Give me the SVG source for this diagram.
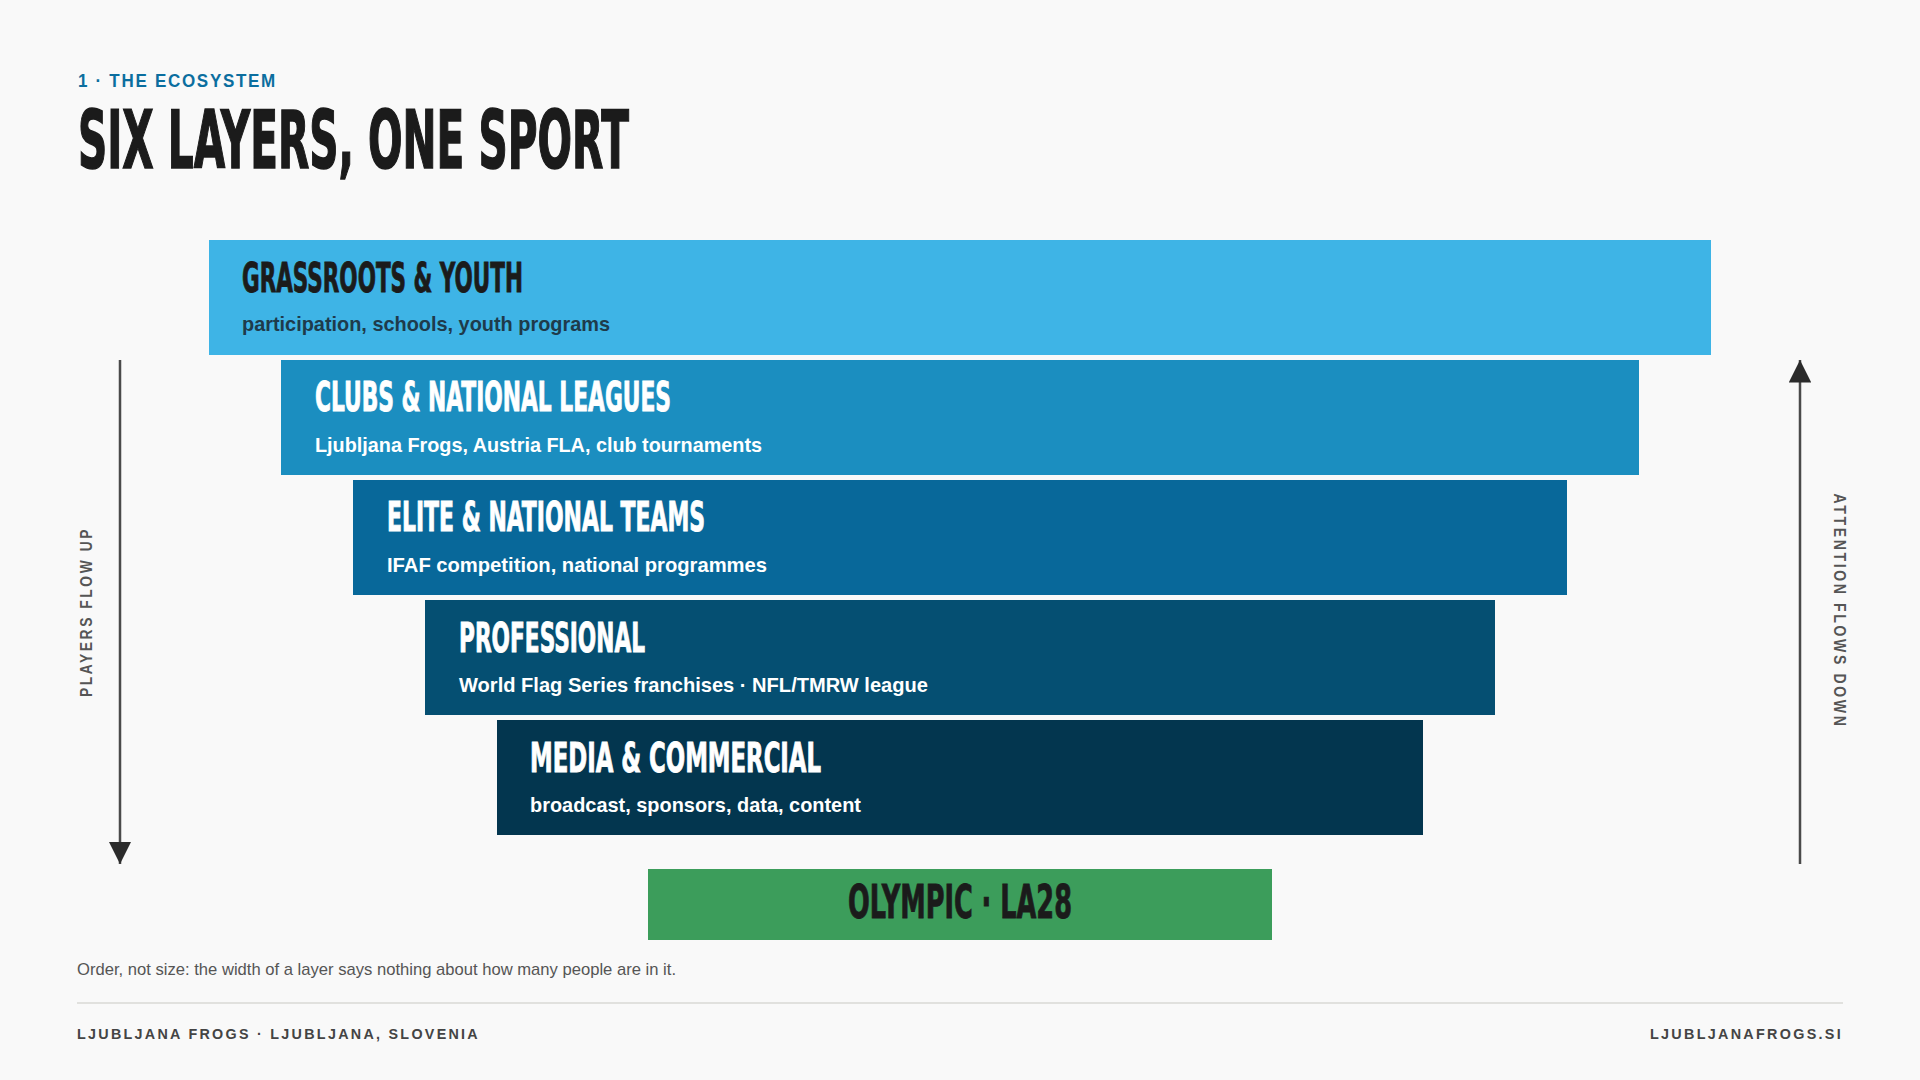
<svg xmlns="http://www.w3.org/2000/svg" width="1920" height="1080" viewBox="0 0 1920 1080">
  <style>
    .bg { fill: #f9f9f9; }
    .eyebrow { font-family: "Liberation Sans", Arial, sans-serif; font-weight: 700; font-size: 18px; letter-spacing: 1.8px; fill: #0b6e9f; }
    .h1 { font-family: "Liberation Sans Narrow", "DejaVu Sans Condensed", "Liberation Sans", sans-serif; font-weight: 700; font-size: 81px; fill: #1b1b1b; stroke: #1b1b1b; stroke-width: 1.6px; }
    .lt { font-family: "Liberation Sans Narrow", "DejaVu Sans Condensed", "Liberation Sans", sans-serif; font-weight: 700; font-size: 40px; fill: #ffffff; stroke: #ffffff; stroke-width: 0.9px; }
    .ls { font-family: "Liberation Sans", Arial, sans-serif; font-weight: 700; font-size: 21px; fill: #ffffff; }
    .dark { fill: #1b1b1b; stroke: #1b1b1b; }
    .darksub { fill: #1e3b4b; }
    .side { font-family: "Liberation Sans", Arial, sans-serif; font-weight: 700; font-size: 16px; letter-spacing: 3px; fill: #555555; }
    .caption { font-family: "Liberation Sans", Arial, sans-serif; font-size: 17px; fill: #555555; }
    .foot { font-family: "Liberation Sans", Arial, sans-serif; font-weight: 700; font-size: 15px; letter-spacing: 2.4px; fill: #444444; }
    .arrow { stroke: #4a4a4a; stroke-width: 2.5px; fill: none; }
  </style>
  <defs>
    <marker id="head" viewBox="0 0 10 10" refX="10" refY="5" markerWidth="9" markerHeight="9" markerUnits="strokeWidth" orient="auto">
      <path d="M0,0 L10,5 L0,10 Z" fill="#2b2b2b"/>
    </marker>
  </defs>

  <rect class="bg" x="0" y="0" width="1920" height="1080"/>

  <g id="header">
    <text class="eyebrow" x="78" y="87" textLength="199" lengthAdjust="spacingAndGlyphs">1 · THE ECOSYSTEM</text>
    <text class="h1" x="78" y="168" textLength="551" lengthAdjust="spacingAndGlyphs">SIX LAYERS, ONE SPORT</text>
  </g>

  <g id="layer-grassroots">
    <rect x="209" y="240" width="1502" height="115" fill="#3eb4e6"/>
    <text class="lt dark" x="242" y="292" textLength="281" lengthAdjust="spacingAndGlyphs">GRASSROOTS &amp; YOUTH</text>
    <text class="ls darksub" x="242" y="331" textLength="368" lengthAdjust="spacingAndGlyphs">participation, schools, youth programs</text>
  </g>

  <g id="layer-clubs">
    <rect x="281" y="360" width="1358" height="115" fill="#1b8ec0"/>
    <text class="lt" x="315" y="411" textLength="356" lengthAdjust="spacingAndGlyphs">CLUBS &amp; NATIONAL LEAGUES</text>
    <text class="ls" x="315" y="452" textLength="447" lengthAdjust="spacingAndGlyphs">Ljubljana Frogs, Austria FLA, club tournaments</text>
  </g>

  <g id="layer-elite">
    <rect x="353" y="480" width="1214" height="115" fill="#08689a"/>
    <text class="lt" x="387" y="531" textLength="318" lengthAdjust="spacingAndGlyphs">ELITE &amp; NATIONAL TEAMS</text>
    <text class="ls" x="387" y="572" textLength="380" lengthAdjust="spacingAndGlyphs">IFAF competition, national programmes</text>
  </g>

  <g id="layer-professional">
    <rect x="425" y="600" width="1070" height="115" fill="#054f72"/>
    <text class="lt" x="459" y="652" textLength="186" lengthAdjust="spacingAndGlyphs">PROFESSIONAL</text>
    <text class="ls" x="459" y="692" textLength="469" lengthAdjust="spacingAndGlyphs">World Flag Series franchises · NFL/TMRW league</text>
  </g>

  <g id="layer-media">
    <rect x="497" y="720" width="926" height="115" fill="#03364f"/>
    <text class="lt" x="530" y="772" textLength="291" lengthAdjust="spacingAndGlyphs">MEDIA &amp; COMMERCIAL</text>
    <text class="ls" x="530" y="812" textLength="331" lengthAdjust="spacingAndGlyphs">broadcast, sponsors, data, content</text>
  </g>

  <g id="layer-olympic">
    <rect x="648" y="869" width="624" height="71" fill="#3c9d5b"/>
    <text class="lt dark" x="960" y="918" text-anchor="middle" style="font-size:46px" textLength="224" lengthAdjust="spacingAndGlyphs">OLYMPIC · LA28</text>
  </g>

  <g id="connectors">
    <line class="arrow" x1="120" y1="360" x2="120" y2="864" marker-end="url(#head)"/>
    <line class="arrow" x1="1800" y1="864" x2="1800" y2="360" marker-end="url(#head)"/>
  </g>

  <g id="side-labels">
    <text class="side" transform="translate(92,612) rotate(-90)" text-anchor="middle" textLength="170" lengthAdjust="spacingAndGlyphs">PLAYERS FLOW UP</text>
    <text class="side" transform="translate(1834,611) rotate(90)" text-anchor="middle" textLength="235" lengthAdjust="spacingAndGlyphs">ATTENTION FLOWS DOWN</text>
  </g>

  <g id="footer">
    <text class="caption" x="77" y="975" textLength="599" lengthAdjust="spacingAndGlyphs">Order, not size: the width of a layer says nothing about how many people are in it.</text>
    <line x1="77" y1="1003" x2="1843" y2="1003" stroke="#d9d9d5" stroke-width="1.5"/>
    <text class="foot" x="77" y="1039" textLength="403" lengthAdjust="spacingAndGlyphs">LJUBLJANA FROGS · LJUBLJANA, SLOVENIA</text>
    <text class="foot" x="1843" y="1039" text-anchor="end" textLength="193" lengthAdjust="spacingAndGlyphs">LJUBLJANAFROGS.SI</text>
  </g>
</svg>
